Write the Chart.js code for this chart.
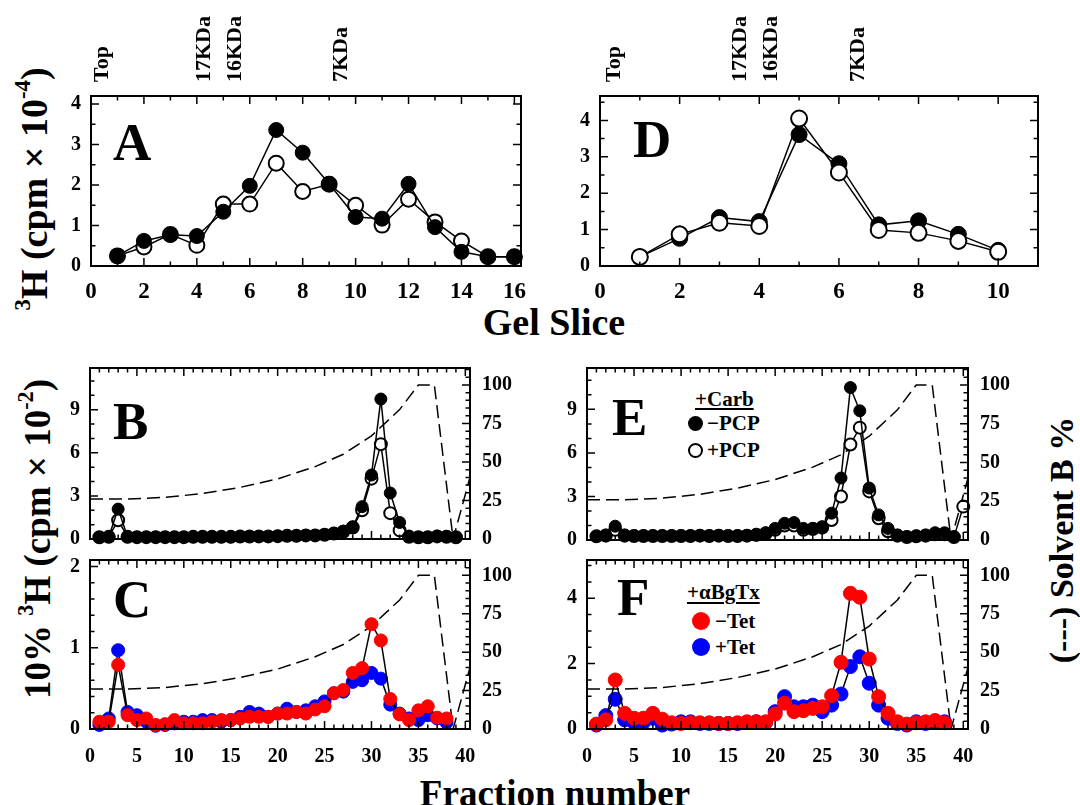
<!DOCTYPE html>
<html>
<head>
<meta charset="utf-8">
<script src="https://cdn.jsdelivr.net/npm/chart.js@4.4.1/dist/chart.umd.min.js"></script>
<style>
body { margin: 0; background: #fff; width: 1080px; height: 805px; overflow: hidden; position: relative;
       font-family: 'Liberation Serif', 'Times New Roman', serif; font-weight: bold; color: #000; }
canvas { position: absolute; }
.t { position: absolute; white-space: nowrap; line-height: 1; }
.rot { transform: translate(-50%, -50%) rotate(-90deg); }
.dot { position: absolute; border-radius: 50%; box-sizing: border-box; }
sup { font-size: 60%; vertical-align: 0.75em; line-height: 0; }
</style>
</head>
<body>

<div class="t rot" style="left:34px; top:189px; font-size:38px;"><sup>3</sup>H (cpm &times; 10<sup>-4</sup>)</div>
<div class="t rot" style="left:37px; top:539px; font-size:37px;">10% <sup>3</sup>H (cpm &times; 10<sup>-2</sup>)</div>
<div class="t rot" style="left:1062px; top:540px; font-size:34px;">(---) Solvent B %</div>
<div class="t" style="left:554px; top:303px; font-size:38px; transform:translateX(-50%);">Gel Slice</div>
<div class="t" style="left:555px; top:775px; font-size:37px; transform:translateX(-50%);">Fraction number</div>

<div class="t" style="left:695px; top:389px; font-size:21px; text-decoration:underline; text-decoration-thickness:2px; text-underline-offset:2px;">+Carb</div>
<div class="dot" style="left:688px; top:416px; width:15px; height:15px; background:#000;"></div>
<div class="t" style="left:707px; top:413px; font-size:21px;">&minus;PCP</div>
<div class="dot" style="left:688px; top:443px; width:15px; height:15px; background:#fff; border:2px solid #000;"></div>
<div class="t" style="left:707px; top:440px; font-size:21px;">+PCP</div>

<div class="t" style="left:687px; top:582px; font-size:21px; text-decoration:underline; text-decoration-thickness:2px; text-underline-offset:3px;">+&alpha;BgTx</div>
<div class="dot" style="left:692px; top:612px; width:18px; height:18px; background:#f00;"></div>
<div class="t" style="left:715px; top:611px; font-size:21px;">&minus;Tet</div>
<div class="dot" style="left:692px; top:638px; width:18px; height:18px; background:#00f;"></div>
<div class="t" style="left:715px; top:637px; font-size:21px;">+Tet</div>

<script>
// Gel slice counts (panels A, D)
const slicesA = [1, 2, 3, 4, 5, 6, 7, 8, 9, 10, 11, 12, 13, 14, 15, 16];
const gelA_filled = [0.25, 0.62, 0.77, 0.74, 1.34, 1.98, 3.36, 2.80, 2.03, 1.21, 1.17, 2.03, 0.96, 0.35, 0.23, 0.23];
const gelA_open = [0.25, 0.47, 0.78, 0.51, 1.53, 1.53, 2.54, 1.84, 2.02, 1.50, 1.01, 1.65, 1.09, 0.62, 0.23, 0.23];
const slicesD = [1, 2, 3, 4, 5, 6, 7, 8, 9, 10];
const gelD_filled = [0.25, 0.76, 1.33, 1.22, 3.61, 2.81, 1.13, 1.24, 0.87, 0.43];
const gelD_open = [0.25, 0.87, 1.19, 1.10, 4.05, 2.57, 0.99, 0.91, 0.69, 0.39];

// marker labels above the gel panels
const markerNames = ['Top', '17KDa', '16KDa', '7KDa'];
const markerPosA = [0.42, 4.29, 5.45, 9.47];
const markerPosD = [0.35, 3.52, 4.30, 6.49];

// HPLC fractions (panels B, C, E, F)
const fractions = [1, 2, 3, 4, 5, 6, 7, 8, 9, 10, 11, 12, 13, 14, 15, 16, 17, 18, 19, 20,
                   21, 22, 23, 24, 25, 26, 27, 28, 29, 30, 31, 32, 33, 34, 35, 36, 37, 38, 39, 40];
const B_minusPCP = [0.12, 0.15, 2.08, 0.15, 0.13, 0.13, 0.13, 0.13, 0.13, 0.13, 0.15, 0.15, 0.15, 0.15, 0.15, 0.17, 0.17, 0.18, 0.18, 0.20,
                    0.22, 0.22, 0.25, 0.25, 0.30, 0.38, 0.55, 0.85, 2.25, 4.45, 9.74, 3.20, 1.15, 0.20, 0.12, 0.12, 0.20, 0.18, 0.12];
const B_plusPCP = [0.12, 0.15, 1.30, 0.15, 0.13, 0.13, 0.13, 0.13, 0.13, 0.13, 0.15, 0.15, 0.15, 0.15, 0.15, 0.17, 0.17, 0.18, 0.18, 0.20,
                   0.22, 0.22, 0.25, 0.25, 0.30, 0.38, 0.50, 0.80, 2.00, 4.20, 6.60, 1.80, 0.60, 0.15, 0.12, 0.12, 0.18, 0.15, 0.12];
const E_minusPCP = [0.25, 0.35, 0.95, 0.35, 0.30, 0.30, 0.30, 0.30, 0.30, 0.30, 0.30, 0.32, 0.30, 0.32, 0.30, 0.30, 0.32, 0.40, 0.50, 0.80,
                    1.15, 1.20, 0.80, 0.80, 0.92, 1.85, 4.27, 10.50, 8.90, 3.58, 1.73, 0.80, 0.35, 0.23, 0.28, 0.35, 0.50, 0.50, 0.20];
const E_plusPCP = [0.25, 0.30, 0.70, 0.30, 0.28, 0.28, 0.28, 0.28, 0.28, 0.28, 0.28, 0.30, 0.28, 0.30, 0.28, 0.28, 0.30, 0.35, 0.45, 0.70,
                   1.00, 1.00, 0.70, 0.75, 0.85, 1.38, 3.00, 6.58, 7.74, 3.35, 1.50, 0.60, 0.30, 0.20, 0.25, 0.30, 0.40, 0.40, 0.20, 2.30];
const C_minusTet = [0.09, 0.09, 0.79, 0.17, 0.11, 0.13, 0.05, 0.06, 0.11, 0.07, 0.07, 0.07, 0.09, 0.11, 0.11, 0.13, 0.15, 0.15, 0.15, 0.19,
                    0.19, 0.21, 0.19, 0.24, 0.28, 0.44, 0.48, 0.69, 0.75, 1.29, 1.09, 0.37, 0.18, 0.11, 0.23, 0.28, 0.14, 0.13];
const C_plusTet = [0.05, 0.13, 0.97, 0.21, 0.17, 0.09, 0.04, 0.05, 0.07, 0.09, 0.09, 0.11, 0.11, 0.09, 0.11, 0.15, 0.21, 0.19, 0.15, 0.19,
                   0.25, 0.21, 0.23, 0.28, 0.34, 0.44, 0.46, 0.58, 0.60, 0.69, 0.62, 0.30, 0.19, 0.13, 0.11, 0.17, 0.13, 0.08];
const F_minusTet = [0.15, 0.28, 1.50, 0.48, 0.33, 0.33, 0.48, 0.30, 0.19, 0.17, 0.19, 0.19, 0.19, 0.17, 0.17, 0.19, 0.22, 0.22, 0.22, 0.46,
                    0.79, 0.53, 0.56, 0.63, 0.68, 1.02, 2.04, 4.15, 4.03, 2.14, 0.99, 0.48, 0.22, 0.15, 0.19, 0.22, 0.26, 0.19];
const F_plusTet = [0.12, 0.41, 0.91, 0.28, 0.20, 0.20, 0.33, 0.12, 0.15, 0.22, 0.22, 0.17, 0.17, 0.17, 0.17, 0.17, 0.20, 0.22, 0.20, 0.53,
                   0.99, 0.68, 0.68, 0.73, 0.53, 0.73, 1.07, 1.91, 2.21, 1.40, 0.73, 0.33, 0.17, 0.12, 0.22, 0.17, 0.22, 0.22];

// solvent B gradient (right axis, %)
const solventX = [0, 4, 8, 12, 16, 20, 24, 27, 30, 33, 35, 36.7, 38.7, 40.5];
const solventB = [26, 26, 27, 29.5, 33.5, 39, 47, 55, 67, 84, 100, 100, 0, 40];

const FONT = "'Liberation Serif', 'Times New Roman', serif";
Chart.defaults.font.family = FONT;
Chart.defaults.font.weight = 'bold';
Chart.defaults.color = '#000';

const PAD_L = 70, PAD_R = 70, PAD_B = 45, PAD_T = 40;

// frame, inward ticks, panel letter, marker labels
const frameTicks = {
    id: 'frameTicks',
    afterDraw(chart, args, o) {
        const { ctx, chartArea: a, scales } = chart;
        ctx.save();
        ctx.strokeStyle = '#000';
        ctx.lineWidth = 2;
        ctx.strokeRect(a.left, a.top, a.right - a.left, a.bottom - a.top);
        ctx.lineWidth = 1.5;

        const each = (scale, step, major, fn) => {
            for (let i = 0; i * step <= scale.max + 1e-9; i++) {
                const v = i * step;
                const isMajor = Math.abs(v / major - Math.round(v / major)) < 1e-6;
                fn(scale.getPixelForValue(v), isMajor ? 8 : 4.5);
            }
        };
        ctx.beginPath();
        each(scales.x, o.x[0], o.x[1], (p, len) => {
            ctx.moveTo(p, a.bottom); ctx.lineTo(p, a.bottom - len);
            ctx.moveTo(p, a.top); ctx.lineTo(p, a.top + len);
        });
        each(scales.y, o.y[0], o.y[1], (p, len) => {
            ctx.moveTo(a.left, p); ctx.lineTo(a.left + len, p);
            if (!o.y2) { ctx.moveTo(a.right, p); ctx.lineTo(a.right - len, p); }
        });
        if (o.y2) {
            each(scales.y2, o.y2[0], o.y2[1], (p, len) => {
                ctx.moveTo(a.right, p); ctx.lineTo(a.right - len, p);
            });
        }
        ctx.stroke();

        ctx.fillStyle = '#000';
        ctx.font = 'bold 53px ' + FONT;
        ctx.textBaseline = 'alphabetic';
        ctx.fillText(o.letter, a.left + o.letterAt[0], a.top + o.letterAt[1]);

        if (o.markers) {
            ctx.font = 'bold 22px ' + FONT;
            ctx.textBaseline = 'middle';
            o.markers.forEach((m, i) => {
                ctx.save();
                ctx.translate(scales.x.getPixelForValue(o.markerPos[i]), a.top - 14);
                ctx.rotate(-Math.PI / 2);
                ctx.fillText(m, 0, 0);
                ctx.restore();
            });
        }
        ctx.restore();
    }
};

function pts(xs, ys) { return ys.map((y, i) => ({ x: xs[i], y: y })); }

function marks(xs, ys, fill, stroke, r, bw) {
    return {
        data: pts(xs, ys), borderColor: '#000', borderWidth: 1.5, tension: 0,
        pointRadius: r, pointBackgroundColor: fill, pointBorderColor: stroke, pointBorderWidth: bw,
        clip: false
    };
}

function gradient() {
    return {
        data: pts(solventX, solventB), yAxisID: 'y2', borderColor: '#000', borderWidth: 1.5,
        borderDash: [13, 6], pointRadius: 0, tension: 0
    };
}

function panel(rect, cfg) {
    const padT = cfg.padTop || PAD_T;
    const w = rect.r - rect.l + PAD_L + PAD_R;
    const h = rect.b - rect.t + padT + PAD_B;
    const c = document.createElement('canvas');
    c.width = w; c.height = h;
    c.style.left = (rect.l - PAD_L) + 'px';
    c.style.top = (rect.t - padT) + 'px';
    c.style.width = w + 'px';
    c.style.height = h + 'px';
    document.body.appendChild(c);

    const tickFont = { family: FONT, weight: 'bold', size: 20 };
    const scales = {
        x: {
            type: 'linear', min: 0, max: cfg.xMax,
            afterFit: s => { s.height = PAD_B; },
            grid: { display: false, drawTicks: false }, border: { display: false },
            ticks: { display: cfg.xLabels, stepSize: cfg.xStep, includeBounds: false, autoSkip: false,
                     maxRotation: 0, padding: cfg.xPad || 14, font: { ...tickFont, size: cfg.xFont || 20 } }
        },
        y: {
            type: 'linear', position: 'left', min: 0, max: cfg.yMax,
            afterFit: s => { s.width = PAD_L; },
            grid: { display: false, drawTicks: false }, border: { display: false },
            ticks: { stepSize: cfg.yStep, includeBounds: false, padding: 10, font: tickFont }
        }
    };
    if (cfg.y2Max) {
        scales.y2 = {
            type: 'linear', position: 'right', min: 0, max: cfg.y2Max,
            afterFit: s => { s.width = PAD_R; },
            grid: { display: false, drawTicks: false }, border: { display: false },
            ticks: { stepSize: 25, includeBounds: false, padding: 12, font: tickFont }
        };
    }

    new Chart(c, {
        type: 'line',
        data: { datasets: cfg.datasets },
        options: {
            responsive: false, animation: false, devicePixelRatio: 1,
            layout: { padding: { left: 0, top: padT, right: cfg.y2Max ? 0 : PAD_R, bottom: 0 } },
            plugins: { legend: { display: false }, tooltip: { enabled: false }, frameTicks: cfg.deco },
            scales: scales
        },
        plugins: [frameTicks]
    });
}

// A
panel({ l: 91, t: 96, r: 521, b: 266 }, {
    padTop: 96, xMax: 16.25, xStep: 2, xLabels: true, xFont: 23, xPad: 12, yMax: 4.2, yStep: 1,
    datasets: [
        marks(slicesA, gelA_filled, '#000', '#000', 7.5, 1),
        marks(slicesA, gelA_open, '#fff', '#000', 7.5, 2)
    ],
    deco: { x: [1, 2], y: [0.5, 1], letter: 'A', letterAt: [22, 64], markers: markerNames, markerPos: markerPosA }
});

// D
panel({ l: 600, t: 96, r: 1038, b: 266 }, {
    padTop: 96, xMax: 11, xStep: 2, xLabels: true, xFont: 23, xPad: 12, yMax: 4.67, yStep: 1,
    datasets: [
        marks(slicesD, gelD_open, '#fff', '#000', 8, 2),
        marks(slicesD, gelD_filled, '#000', '#000', 8, 1)
    ],
    deco: { x: [1, 2], y: [0.5, 1], letter: 'D', letterAt: [33, 61], markers: markerNames, markerPos: markerPosD }
});

// B
panel({ l: 90, t: 368, r: 470, b: 539 }, {
    xMax: 40.5, xStep: 5, xLabels: false, yMax: 11.9, yStep: 3, y2Max: 111,
    datasets: [
        marks(fractions, B_minusPCP, '#000', '#000', 6, 1),
        marks(fractions, B_plusPCP, '#fff', '#000', 6, 2),
        gradient()
    ],
    deco: { x: [1, 5], y: [1, 3], y2: [5, 25], letter: 'B', letterAt: [23, 71] }
});

// E
panel({ l: 587, t: 368, r: 968, b: 540 }, {
    xMax: 40.5, xStep: 5, xLabels: false, yMax: 11.85, yStep: 3, y2Max: 111,
    datasets: [
        marks(fractions, E_minusPCP, '#000', '#000', 6, 1),
        marks(fractions, E_plusPCP, '#fff', '#000', 6, 2),
        gradient()
    ],
    deco: { x: [1, 5], y: [1, 3], y2: [5, 25], letter: 'E', letterAt: [25, 67] }
});

// C
panel({ l: 90, t: 560, r: 470, b: 729 }, {
    xMax: 40.5, xStep: 5, xLabels: true, xPad: 16, yMax: 2.08, yStep: 1, y2Max: 110,
    datasets: [
        marks(fractions, C_minusTet, '#f00', '#f00', 6.5, 1),
        marks(fractions, C_plusTet, '#00f', '#00f', 6.5, 1),
        gradient()
    ],
    deco: { x: [1, 5], y: [0.2, 1], y2: [5, 25], letter: 'C', letterAt: [23, 57] }
});

// F
panel({ l: 587, t: 560, r: 968, b: 729 }, {
    xMax: 40.5, xStep: 5, xLabels: true, xPad: 16, yMax: 5.17, yStep: 2, y2Max: 110,
    datasets: [
        marks(fractions, F_minusTet, '#f00', '#f00', 7, 1),
        marks(fractions, F_plusTet, '#00f', '#00f', 7, 1),
        gradient()
    ],
    deco: { x: [1, 5], y: [0.5, 2], y2: [5, 25], letter: 'F', letterAt: [30, 55] }
});
</script>
</body>
</html>
